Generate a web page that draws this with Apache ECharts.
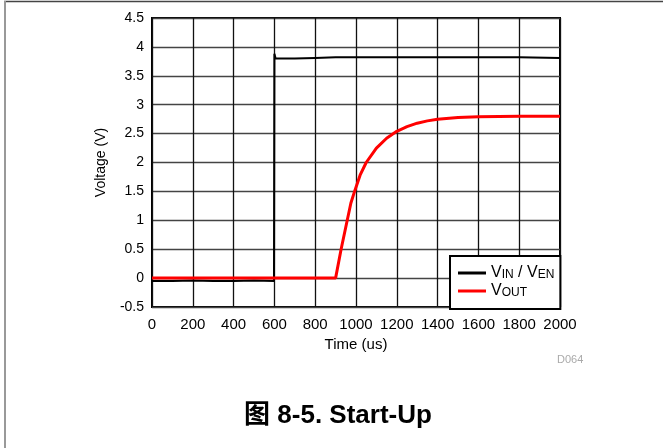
<!DOCTYPE html>
<html>
<head>
<meta charset="utf-8">
<script src="https://cdn.jsdelivr.net/npm/echarts@6/dist/echarts.min.js"></script>
<style>
html,body{margin:0;padding:0;background:#fff;}
#c{width:663px;height:448px;}
</style>
</head>
<body>
<div id="c"></div>
<script>
// Time (us) / Voltage (V)
const vinTime = [0, 100, 200, 300, 400, 500, 598, 600, 600, 606, 650, 700, 800, 900, 1000, 1200, 1400, 1600, 1800, 2000];
const vinVolt = [-0.05, -0.05, -0.04, -0.05, -0.05, -0.04, -0.05, -0.05, 3.88, 3.80, 3.80, 3.80, 3.81, 3.82, 3.82, 3.82, 3.82, 3.82, 3.82, 3.81];
const voutTime = [0, 900, 927, 957, 975, 993, 1020, 1050, 1100, 1150, 1200, 1250, 1300, 1350, 1400, 1500, 1600, 1800, 2000];
const voutVolt = [0, 0, 0.5, 1.0, 1.3, 1.5, 1.78, 2.0, 2.25, 2.42, 2.54, 2.62, 2.68, 2.72, 2.75, 2.78, 2.79, 2.80, 2.80];
const xTicks = { min: 0, max: 2000, interval: 200 };
const yTicks = { min: -0.5, max: 4.5, interval: 0.5 };
const seriesNames = ['VIN / VEN', 'VOUT'];

const chart = echarts.init(document.getElementById('c'), null, { renderer: 'canvas' });
const FONT = '"Liberation Sans", Arial, sans-serif';
chart.setOption({
  animation: false,
  backgroundColor: '#fff',
  grid: { left: 152, right: 103, top: 18, bottom: 141, show: true, borderColor: '#000', borderWidth: 2, backgroundColor: 'transparent' },
  xAxis: {
    type: 'value', min: xTicks.min, max: xTicks.max, interval: xTicks.interval,
    name: 'Time (us)', nameLocation: 'middle', nameGap: 27,
    nameTextStyle: { fontFamily: FONT, fontSize: 15, color: '#000' },
    axisLine: { show: false }, axisTick: { show: false },
    axisLabel: { fontFamily: FONT, fontSize: 15, color: '#000', margin: 10, formatter: v => String(v) },
    splitLine: { show: true, lineStyle: { color: '#111', width: 1.3 } }
  },
  yAxis: {
    type: 'value', min: yTicks.min, max: yTicks.max, interval: yTicks.interval,
    name: 'Voltage (V)', nameLocation: 'middle', nameGap: 44, nameRotate: 90,
    nameTextStyle: { fontFamily: FONT, fontSize: 14, color: '#000' },
    axisLine: { show: false }, axisTick: { show: false },
    axisLabel: { fontFamily: FONT, fontSize: 14, color: '#000', margin: 8, formatter: v => String(v) },
    splitLine: { show: true, lineStyle: { color: '#444', width: 1.3 } }
  },
  legend: {
    orient: 'vertical', left: 450, top: 256,
    padding: [9, 6, 10, 8], itemGap: 2,
    backgroundColor: '#fff', borderColor: '#000', borderWidth: 2, borderRadius: 0,
    icon: 'rect', itemWidth: 28, itemHeight: 3,
    data: seriesNames,
    formatter: function (n) {
      return n === seriesNames[0] ? '{m|V}{s|IN}{m| / V}{s|EN}' : '{m|V}{s|OUT}';
    },
    textStyle: {
      fontFamily: FONT, color: '#000', padding: [0, 0, 0, 0],
      rich: {
        m: { fontFamily: FONT, fontSize: 16, color: '#000', verticalAlign: 'bottom', lineHeight: 16 },
        s: { fontFamily: FONT, fontSize: 12, color: '#000', verticalAlign: 'bottom', lineHeight: 14 }
      }
    },
    z: 10
  },
  series: [
    {
      name: seriesNames[0], type: 'line', symbol: 'none', z: 2,
      data: vinTime.map((t, i) => [t, vinVolt[i]]),
      lineStyle: { color: '#000', width: 2 }, itemStyle: { color: '#000' }
    },
    {
      name: seriesNames[1], type: 'line', symbol: 'none', z: 3,
      data: voutTime.map((t, i) => [t, voutVolt[i]]),
      lineStyle: { color: '#ff0000', width: 3 }, itemStyle: { color: '#ff0000' }
    }
  ],
  graphic: [
    { type: 'line', shape: { x1: 4, y1: 1.5, x2: 663, y2: 1.5 }, style: { stroke: '#444', lineWidth: 1.5 } },
    { type: 'line', shape: { x1: 5, y1: 1, x2: 5, y2: 448 }, style: { stroke: '#999', lineWidth: 2 } },
    { type: 'text', left: 557, top: 354, style: { text: 'D064', font: '11px "Liberation Sans", Arial, sans-serif', fill: '#aaa' } },
    { type: 'text', x: 338, y: 429, style: { text: '图 8-5. Start-Up', font: 'bold 26px "Liberation Sans", "Noto Sans CJK SC", sans-serif', fill: '#000', textAlign: 'center', textVerticalAlign: 'bottom' } }
  ]
});
</script>
</body>
</html>
